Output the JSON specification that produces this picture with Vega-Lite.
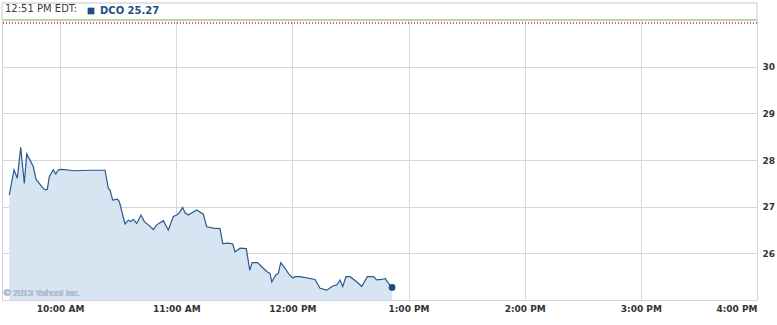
{
  "$schema": "https://vega.github.io/schema/vega-lite/v6.json",
  "width": 755,
  "height": 280,
  "autosize": {"type": "none"},
  "padding": {"left": 2, "top": 20, "right": 20, "bottom": 25},
  "background": "white",
  "config": {
    "view": {"stroke": "#cfd4d8", "strokeWidth": 1},
    "font": "DejaVu Sans"
  },
  "title": {
    "text": "12:51 PM EDT:",
    "anchor": "start",
    "frame": "group",
    "fontSize": 10,
    "fontWeight": "normal",
    "color": "#3a3a3a",
    "font": "DejaVu Sans",
    "offset": -11,
    "dx": 3
  },
  "data": {
    "values": [
      {"t": "2013-06-10T09:33:46", "v": 27.25},
      {"t": "2013-06-10T09:36:12", "v": 27.79},
      {"t": "2013-06-10T09:37:54", "v": 27.61},
      {"t": "2013-06-10T09:39:40", "v": 28.27},
      {"t": "2013-06-10T09:41:31", "v": 27.5},
      {"t": "2013-06-10T09:42:46", "v": 28.13},
      {"t": "2013-06-10T09:46:10", "v": 27.86},
      {"t": "2013-06-10T09:47:34", "v": 27.59},
      {"t": "2013-06-10T09:50:31", "v": 27.43},
      {"t": "2013-06-10T09:52:13", "v": 27.36},
      {"t": "2013-06-10T09:53:24", "v": 27.37},
      {"t": "2013-06-10T09:54:26", "v": 27.64},
      {"t": "2013-06-10T09:56:30", "v": 27.79},
      {"t": "2013-06-10T09:57:45", "v": 27.7},
      {"t": "2013-06-10T09:59:05", "v": 27.79},
      {"t": "2013-06-10T10:00:50", "v": 27.8},
      {"t": "2013-06-10T10:07:43", "v": 27.77},
      {"t": "2013-06-10T10:15:28", "v": 27.78},
      {"t": "2013-06-10T10:23:13", "v": 27.78},
      {"t": "2013-06-10T10:24:55", "v": 27.39},
      {"t": "2013-06-10T10:25:47", "v": 27.36},
      {"t": "2013-06-10T10:27:11", "v": 27.14},
      {"t": "2013-06-10T10:29:34", "v": 27.16},
      {"t": "2013-06-10T10:30:36", "v": 27.11},
      {"t": "2013-06-10T10:33:33", "v": 26.63},
      {"t": "2013-06-10T10:35:15", "v": 26.71},
      {"t": "2013-06-10T10:36:29", "v": 26.68},
      {"t": "2013-06-10T10:37:50", "v": 26.73},
      {"t": "2013-06-10T10:39:35", "v": 26.64},
      {"t": "2013-06-10T10:41:49", "v": 26.82},
      {"t": "2013-06-10T10:43:31", "v": 26.68},
      {"t": "2013-06-10T10:45:35", "v": 26.61},
      {"t": "2013-06-10T10:48:10", "v": 26.51},
      {"t": "2013-06-10T10:49:55", "v": 26.61},
      {"t": "2013-06-10T10:53:20", "v": 26.7},
      {"t": "2013-06-10T10:55:55", "v": 26.5},
      {"t": "2013-06-10T10:58:30", "v": 26.79},
      {"t": "2013-06-10T11:00:15", "v": 26.82},
      {"t": "2013-06-10T11:01:26", "v": 26.86},
      {"t": "2013-06-10T11:03:21", "v": 26.98},
      {"t": "2013-06-10T11:04:32", "v": 26.87},
      {"t": "2013-06-10T11:06:14", "v": 26.82},
      {"t": "2013-06-10T11:10:35", "v": 26.93},
      {"t": "2013-06-10T11:13:59", "v": 26.84},
      {"t": "2013-06-10T11:15:45", "v": 26.57},
      {"t": "2013-06-10T11:19:10", "v": 26.54},
      {"t": "2013-06-10T11:22:37", "v": 26.53},
      {"t": "2013-06-10T11:24:01", "v": 26.21},
      {"t": "2013-06-10T11:26:55", "v": 26.22},
      {"t": "2013-06-10T11:29:11", "v": 26.2},
      {"t": "2013-06-10T11:30:22", "v": 26.03},
      {"t": "2013-06-10T11:32:57", "v": 26.11},
      {"t": "2013-06-10T11:36:12", "v": 26.1},
      {"t": "2013-06-10T11:37:58", "v": 25.64},
      {"t": "2013-06-10T11:39:15", "v": 25.8},
      {"t": "2013-06-10T11:41:59", "v": 25.8},
      {"t": "2013-06-10T11:43:17", "v": 25.75},
      {"t": "2013-06-10T11:44:59", "v": 25.68},
      {"t": "2013-06-10T11:46:44", "v": 25.61},
      {"t": "2013-06-10T11:48:27", "v": 25.57},
      {"t": "2013-06-10T11:49:20", "v": 25.39},
      {"t": "2013-06-10T11:51:33", "v": 25.54},
      {"t": "2013-06-10T11:52:44", "v": 25.57},
      {"t": "2013-06-10T11:53:59", "v": 25.8},
      {"t": "2013-06-10T11:56:12", "v": 25.68},
      {"t": "2013-06-10T11:57:54", "v": 25.57},
      {"t": "2013-06-10T12:00:11", "v": 25.47},
      {"t": "2013-06-10T12:01:22", "v": 25.5},
      {"t": "2013-06-10T12:03:57", "v": 25.5},
      {"t": "2013-06-10T12:11:42", "v": 25.44},
      {"t": "2013-06-10T12:14:17", "v": 25.25},
      {"t": "2013-06-10T12:17:44", "v": 25.21},
      {"t": "2013-06-10T12:20:50", "v": 25.3},
      {"t": "2013-06-10T12:22:55", "v": 25.32},
      {"t": "2013-06-10T12:24:37", "v": 25.43},
      {"t": "2013-06-10T12:26:01", "v": 25.29},
      {"t": "2013-06-10T12:27:43", "v": 25.5},
      {"t": "2013-06-10T12:29:47", "v": 25.5},
      {"t": "2013-06-10T12:33:14", "v": 25.39},
      {"t": "2013-06-10T12:35:49", "v": 25.29},
      {"t": "2013-06-10T12:38:43", "v": 25.5},
      {"t": "2013-06-10T12:41:49", "v": 25.5},
      {"t": "2013-06-10T12:43:34", "v": 25.43},
      {"t": "2013-06-10T12:46:09", "v": 25.44},
      {"t": "2013-06-10T12:47:52", "v": 25.46},
      {"t": "2013-06-10T12:49:34", "v": 25.36},
      {"t": "2013-06-10T12:51:30", "v": 25.27}
    ]
  },
  "encoding": {
    "x": {
      "field": "t",
      "type": "temporal",
      "scale": {
        "domain": [
          {"year": 2013, "month": 6, "date": 10, "hours": 9, "minutes": 30},
          {"year": 2013, "month": 6, "date": 10, "hours": 16, "minutes": 0}
        ],
        "nice": false
      },
      "axis": {
        "title": null,
        "values": [
          {"year": 2013, "month": 6, "date": 10, "hours": 10},
          {"year": 2013, "month": 6, "date": 10, "hours": 11},
          {"year": 2013, "month": 6, "date": 10, "hours": 12},
          {"year": 2013, "month": 6, "date": 10, "hours": 13},
          {"year": 2013, "month": 6, "date": 10, "hours": 14},
          {"year": 2013, "month": 6, "date": 10, "hours": 15},
          {"year": 2013, "month": 6, "date": 10, "hours": 16}
        ],
        "format": "%-I:%M %p",
        "grid": true,
        "gridColor": "#d3dadf",
        "ticks": false,
        "domain": false,
        "labelFlush": true,
        "labelPadding": 4,
        "labelFont": "DejaVu Sans",
        "labelFontSize": 9,
        "labelFontWeight": "bold",
        "labelColor": "#333333"
      }
    },
    "y": {
      "field": "v",
      "type": "quantitative",
      "scale": {"domain": [25, 31], "nice": false, "zero": false},
      "axis": {
        "title": null,
        "orient": "right",
        "values": [26, 27, 28, 29, 30],
        "grid": true,
        "gridColor": "#d3dadf",
        "ticks": false,
        "domain": false,
        "labelPadding": 5,
        "labelFont": "DejaVu Sans",
        "labelFontSize": 9,
        "labelFontWeight": "bold",
        "labelColor": "#333333"
      }
    }
  },
  "layer": [
    {
      "mark": {"type": "area", "color": "#d6e5f1", "opacity": 1},
      "encoding": {"y2": {"datum": 25}}
    },
    {
      "mark": {"type": "rect", "fill": null, "stroke": "#dfe3e6", "strokeWidth": 1},
      "encoding": {
        "x": {"datum": {"year": 2013, "month": 6, "date": 10, "hours": 9, "minutes": 30}, "type": "temporal"},
        "x2": {"datum": {"year": 2013, "month": 6, "date": 10, "hours": 16, "minutes": 0}},
        "y": {"datum": 31, "type": "quantitative"},
        "y2": {"datum": 31.36}
      }
    },
    {
      "mark": {"type": "rule", "color": "#b5d6b5", "strokeWidth": 1},
      "encoding": {"y": {"datum": 31, "type": "quantitative"}, "x": null}
    },
    {
      "mark": {"type": "rule", "color": "#e0554f", "strokeWidth": 1, "strokeDash": [1, 2]},
      "encoding": {"y": {"datum": 30.94, "type": "quantitative"}, "x": null}
    },
    {
      "mark": {"type": "text", "text": "© 2013 Yahoo! Inc.", "align": "left", "baseline": "middle", "font": "Liberation Sans", "fontSize": 9, "fontWeight": "normal", "color": "#b3c2ce"},
      "encoding": {
        "x": {"datum": {"year": 2013, "month": 6, "date": 10, "hours": 9, "minutes": 31}, "type": "temporal"},
        "y": {"datum": 25.15, "type": "quantitative"}
      }
    },
    {
      "mark": {"type": "line", "strokeWidth": 1.2, "interpolate": "linear"},
      "encoding": {
        "color": {
          "datum": "DCO",
          "type": "nominal",
          "scale": {"range": ["#2a5b8c"]},
          "legend": {
            "orient": "none",
            "legendX": 84,
            "legendY": -14,
            "title": null,
            "padding": 0,
            "symbolType": "square",
            "symbolSize": 45,
            "symbolStrokeWidth": 0,
            "symbolFillColor": "#1f4f80",
            "labelExpr": "datum.label + ' 25.27'",
            "labelFont": "DejaVu Sans",
            "labelFontSize": 10,
            "labelFontWeight": "bold",
            "labelColor": "#1f4f80",
            "labelOffset": 4
          }
        }
      }
    },
    {
      "transform": [{"filter": {"field": "t", "equal": {"year": 2013, "month": 6, "date": 10, "hours": 12, "minutes": 51, "seconds": 30}}}],
      "mark": {"type": "point", "filled": true, "size": 45, "color": "#1b4c7e", "opacity": 1},
      "encoding": {}
    }
  ]
}
